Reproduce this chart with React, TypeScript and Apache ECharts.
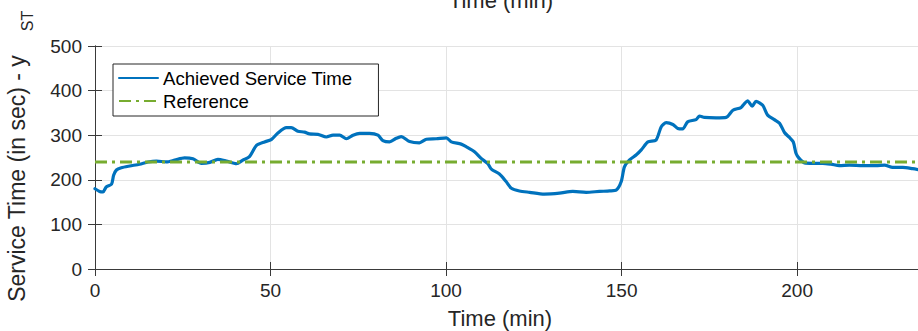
import React, { useEffect, useRef } from "react";
import * as echarts from "echarts";

const timeMin = [
  0, 1.3, 2.3, 3.2, 4.7, 5.3, 6.1, 7.5, 9.9, 12.7, 15.1, 17.5, 20.3, 22.7, 25.5, 27.9,
  30.3, 32.7, 35.0, 37.4, 40.3, 42.1, 44.0, 46.0, 48.3, 50.2, 52.1, 54.5, 55.9, 57.8,
  59.7, 61.1, 63.5, 65.9, 67.8, 69.7, 71.6, 73.5, 75.4, 78.2, 80.6, 82.0, 83.9, 85.8,
  87.2, 89.6, 92.4, 94.4, 97.2, 100.1, 101.5, 104.3, 105.8, 108.1, 110.0, 111.9, 112.9,
  115.2, 117.1, 118.6, 120.9, 123.8, 128.0, 132.3, 136.1, 139.9, 143.7, 146.6, 148.5,
  149.9, 150.8, 152.2, 154.2, 155.6, 157.5, 159.8, 161.3, 162.7, 164.6, 166.0, 167.4,
  168.8, 171.2, 172.2, 173.6, 176.9, 179.8, 181.7, 184.0, 185.0, 185.9, 187.2, 188.3,
  190.2, 191.6, 193.5, 195.0, 196.4, 197.8, 198.9, 199.7, 200.6, 202.1, 204.4, 207.3,
  209.7, 212.0, 214.9, 218.7, 222.5, 224.9, 227.2, 230.1, 232.9, 235,
];
const serviceTime = [
  180, 174, 173, 184, 190, 210, 222, 227, 231, 235, 240, 242, 240, 244, 249, 247,
  237, 239, 246, 242, 236, 244, 252, 277, 285, 290, 305, 317, 317, 309,
  307, 303, 302, 296, 300, 300, 292, 300, 304, 304, 300, 288, 285, 293,
  297, 286, 283, 291, 292, 294, 285, 280, 274, 263, 248, 236, 224,
  213, 196, 181, 175, 172, 168, 170, 174, 172, 174, 175, 177,
  196, 229, 244, 256, 267, 285, 289, 319, 328, 324, 315, 314,
  330, 335, 343, 340, 339, 340, 356, 362, 371, 377, 365, 376,
  367, 345, 335, 327, 306, 295, 285, 259, 248, 238, 237, 237,
  235, 232, 233, 232, 232, 233, 228, 228, 225, 222,
];
const referenceLevel = 240;
const xRange = [0, 235];
const yRange = [0, 500];
const xStep = 50;
const yStep = 100;

const seriesNames = ["Achieved Service Time", "Reference"];
const xLabel = "Time (min)";
const yLabel = "Service Time (in sec) - y";
const ySub = "ST";

const FONT = "'Liberation Sans', Arial, Helvetica, sans-serif";
const TXT = "#262626";
const AX = "#3a3a3a";
const GRID = "#e3e3e3";

export default function App() {
  const ref = useRef<HTMLDivElement>(null);
  useEffect(() => {
    if (!ref.current) return;
    const chart = echarts.init(ref.current, undefined, { renderer: "svg" });
    const lineData = timeMin.map((t, i) => [t, serviceTime[i]]);
    const refData = [
      [xRange[0], referenceLevel],
      [xRange[1], referenceLevel],
    ];
    const mirrorAxis = {
      min: 0,
      axisLabel: { show: false },
      axisLine: { show: true, lineStyle: { color: AX, width: 1 } },
      axisTick: { show: true, inside: true, length: 7, lineStyle: { color: AX } },
      splitLine: { show: false },
    };
    chart.setOption({
      animation: false,
      textStyle: { fontFamily: FONT },
      grid: { left: 95, top: 46, width: 825, height: 223, containLabel: false },
      xAxis: [
        {
          type: "value",
          min: xRange[0],
          max: xRange[1],
          interval: xStep,
          position: "bottom",
          axisLine: { show: true, onZero: false, lineStyle: { color: AX, width: 1 } },
          axisTick: { show: true, inside: true, length: 7, lineStyle: { color: AX } },
          axisLabel: {
            color: TXT,
            fontSize: 19,
            fontFamily: FONT,
            margin: 12,
            showMaxLabel: false,
          },
          splitLine: { show: true, lineStyle: { color: GRID, width: 1 } },
        },
        { ...mirrorAxis, type: "value", max: xRange[1], interval: xStep, position: "top" },
      ],
      yAxis: [
        {
          type: "value",
          min: yRange[0],
          max: yRange[1],
          interval: yStep,
          position: "left",
          axisLine: { show: true, onZero: false, lineStyle: { color: AX, width: 1 } },
          axisTick: { show: true, inside: true, length: 7, lineStyle: { color: AX } },
          axisLabel: { color: TXT, fontSize: 19, fontFamily: FONT, margin: 13 },
          splitLine: { show: true, lineStyle: { color: GRID, width: 1 } },
        },
        { ...mirrorAxis, type: "value", max: yRange[1], interval: yStep, position: "right" },
      ],
      legend: {
        orient: "vertical",
        left: 113,
        top: 64,
        padding: [3, 26, 4, 5],
        itemGap: 1,
        itemWidth: 39,
        itemHeight: 14,
        backgroundColor: "#ffffff",
        borderColor: "#262626",
        borderWidth: 1,
        borderRadius: 0,
        itemStyle: { opacity: 0 },
        textStyle: { color: "#000", fontSize: 18.6, fontFamily: FONT, lineHeight: 22 },
        data: seriesNames,
      },
      series: [
        {
          name: seriesNames[0],
          type: "line",
          data: lineData,
          symbol: "none",
          smooth: 0.25,
          lineStyle: { color: "#0072BD", width: 3.2, join: "round", cap: "round" },
          itemStyle: { color: "#0072BD" },
          z: 3,
        },
        {
          name: seriesNames[1],
          type: "line",
          data: refData,
          symbol: "none",
          lineStyle: { color: "#77AC30", width: 3, type: [12, 5, 3, 5] },
          itemStyle: { color: "#77AC30" },
          z: 4,
        },
      ],
      graphic: [
        {
          type: "text",
          x: 501,
          y: 0.7,
          style: {
            text: xLabel,
            font: `22px ${FONT}`,
            fill: TXT,
            textAlign: "center",
            textVerticalAlign: "middle",
          },
        },
        {
          type: "text",
          x: 500,
          y: 318,
          style: {
            text: xLabel,
            font: `22px ${FONT}`,
            fill: TXT,
            textAlign: "center",
            textVerticalAlign: "middle",
          },
        },
        {
          type: "text",
          x: 17,
          y: 178.5,
          rotation: Math.PI / 2,
          style: {
            text: yLabel,
            font: `23px ${FONT}`,
            fill: TXT,
            textAlign: "center",
            textVerticalAlign: "middle",
          },
        },
        {
          type: "text",
          x: 27,
          y: 21,
          rotation: Math.PI / 2,
          style: {
            text: ySub,
            font: `16px ${FONT}`,
            fill: TXT,
            textAlign: "center",
            textVerticalAlign: "middle",
          },
        },
      ],
    });
    return () => chart.dispose();
  }, []);
  return (
    <div
      style={{
        position: "fixed",
        left: 0,
        top: 0,
        width: 918,
        height: 331,
        overflow: "hidden",
        background: "#fff",
      }}
    >
      <div ref={ref} style={{ width: 940, height: 331 }} />
    </div>
  );
}
